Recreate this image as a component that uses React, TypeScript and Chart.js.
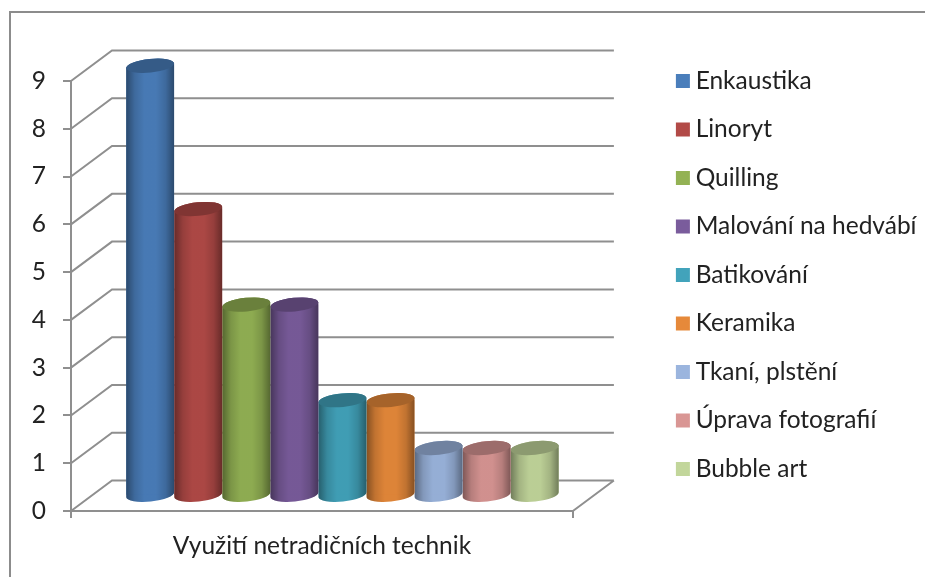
import React, { useEffect, useRef } from "react";
import { Chart, registerables } from "chart.js";

Chart.register(...registerables);

const categories = ["Využití netradičních technik"];
const seriesNames = [
  "Enkaustika",
  "Linoryt",
  "Quilling",
  "Malování na hedvábí",
  "Batikování",
  "Keramika",
  "Tkaní, plstění",
  "Úprava fotografií",
  "Bubble art",
];
const seriesValues = [9, 6, 4, 4, 2, 2, 1, 1, 1];
const seriesColors = [
  "#4a7ebb",
  "#b24a47",
  "#93b254",
  "#7a5c9c",
  "#42a3bb",
  "#e6893a",
  "#9bb5de",
  "#d99694",
  "#c2d69b",
];

const FONT = "Lato";
const FONT_SIZE = 24.5;
const TEXT = "#222222";
const GRID = "#8f8f8f";
const DEPTH_X = 41;
const DEPTH_Y = -30.5;
const RY = 6.8;
const TILT = -0.1;

function darken(hex: string, f: number) {
  const n = parseInt(hex.slice(1), 16);
  return `rgb(${((n >> 16) & 255) * f},${((n >> 8) & 255) * f},${(n & 255) * f})`;
}

function silhouette(ctx: CanvasRenderingContext2D, el: any) {
  const rx = el.width / 2;
  ctx.beginPath();
  ctx.ellipse(el.x, el.base, rx, RY, TILT, 0, Math.PI);
  ctx.ellipse(el.x, el.y, rx, RY, TILT, Math.PI, Math.PI * 2);
  ctx.closePath();
}

const scene = {
  id: "scene",
  beforeDraw(chart: any) {
    const { ctx, height, width } = chart;
    ctx.save();
    ctx.strokeStyle = "#8c8c8c";
    ctx.lineWidth = 2;
    ctx.beginPath();
    ctx.moveTo(10, height);
    ctx.lineTo(10, 12);
    ctx.lineTo(width, 12);
    ctx.stroke();
    ctx.restore();
  },
  beforeDatasetsDraw(chart: any) {
    const { ctx, scales, chartArea } = chart;
    ctx.save();
    ctx.strokeStyle = GRID;
    ctx.lineWidth = 2;
    ctx.beginPath();
    scales.y.ticks.forEach((t: any) => {
      const y = scales.y.getPixelForValue(t.value);
      ctx.moveTo(chartArea.left, y);
      ctx.lineTo(chartArea.left + DEPTH_X, y + DEPTH_Y);
      ctx.lineTo(chartArea.right + DEPTH_X, y + DEPTH_Y);
    });
    ctx.moveTo(chartArea.right, chartArea.bottom);
    ctx.lineTo(chartArea.right + DEPTH_X, chartArea.bottom + DEPTH_Y);
    ctx.stroke();
    ctx.restore();
    ctx.save();
    ctx.translate(DEPTH_X / 2, DEPTH_Y / 2);
  },
  beforeDatasetDraw(chart: any, args: any) {
    const { ctx } = chart;
    const el = args.meta.data[0];
    silhouette(ctx, el);
    ctx.fillStyle = seriesColors[args.index];
    ctx.fill();
    ctx.save();
    silhouette(ctx, el);
    ctx.clip();
  },
  afterDatasetDraw(chart: any, args: any) {
    const { ctx } = chart;
    const el = args.meta.data[0];
    ctx.restore();
    const x0 = el.x - el.width / 2;
    const g = ctx.createLinearGradient(x0, 0, x0 + el.width, 0);
    g.addColorStop(0, "rgba(0,0,0,0.42)");
    g.addColorStop(0.18, "rgba(0,0,0,0.16)");
    g.addColorStop(0.38, "rgba(0,0,0,0.04)");
    g.addColorStop(0.62, "rgba(0,0,0,0.04)");
    g.addColorStop(0.82, "rgba(0,0,0,0.16)");
    g.addColorStop(1, "rgba(0,0,0,0.42)");
    silhouette(ctx, el);
    ctx.fillStyle = g;
    ctx.fill();
    ctx.beginPath();
    ctx.ellipse(el.x, el.y, el.width / 2, RY, TILT, 0, Math.PI * 2);
    ctx.fillStyle = darken(seriesColors[args.index], 0.72);
    ctx.fill();
  },
  afterDatasetsDraw(chart: any) {
    chart.ctx.restore();
  },
};

export default function App() {
  const ref = useRef<HTMLCanvasElement>(null);
  useEffect(() => {
    const chart = new Chart(ref.current!, {
      type: "bar",
      data: {
        labels: categories,
        datasets: seriesNames.map((name, i) => ({
          label: name,
          data: [seriesValues[i]],
          backgroundColor: seriesColors[i],
          borderWidth: 0,
          barPercentage: 1,
          categoryPercentage: 0.862,
          clip: false as any,
        })),
      },
      plugins: [scene],
      options: {
        responsive: false,
        animation: false,
        events: [],
        layout: { padding: { top: -17, left: 0, right: -1.5, bottom: 10 } },
        plugins: {
          tooltip: { enabled: false },
          title: { display: false },
          legend: {
            display: true,
            position: "right",
            align: "center",
            maxWidth: 320,
            labels: {
              font: { family: FONT, size: FONT_SIZE },
              color: TEXT,
              boxWidth: 1,
              boxHeight: 1,
              padding: 24,
              generateLabels: () =>
                seriesNames.map((text, i) => ({
                  text,
                  fillStyle: seriesColors[i],
                  strokeStyle: seriesColors[i],
                  lineWidth: 13,
                  datasetIndex: i,
                  hidden: false,
                  fontColor: TEXT,
                })),
            },
          },
        },
        scales: {
          x: {
            position: "bottom",
            offset: true,
            afterFit: (s: any) => {
              s.height = 56;
            },
            grid: { drawOnChartArea: false, color: GRID, lineWidth: 2, tickLength: 7, offset: true },
            border: { color: GRID, width: 2 },
            ticks: { font: { family: FONT, size: FONT_SIZE }, color: TEXT, padding: 13, maxRotation: 0 },
          },
          xTop: {
            position: "top",
            type: "category",
            afterFit: (s: any) => {
              s.height = 98;
            },
            grid: { display: false },
            border: { display: false },
            ticks: { display: false },
          },
          y: {
            position: "left",
            min: 0,
            max: 9,
            afterFit: (s: any) => {
              s.width = 71;
            },
            grid: { drawOnChartArea: false, color: GRID, lineWidth: 2, tickLength: 8 },
            border: { color: GRID, width: 2 },
            ticks: { stepSize: 1, font: { family: FONT, size: FONT_SIZE }, color: TEXT, padding: 17 },
          },
          yGap: {
            position: "right",
            type: "linear",
            afterFit: (s: any) => {
              s.width = 85.5;
            },
            grid: { display: false },
            border: { display: false },
            ticks: { display: false },
          },
        },
      },
    } as any);
    return () => chart.destroy();
  }, []);
  return (
    <div style={{ position: "absolute", left: 0, top: 0, width: 925, height: 577, background: "#fff", overflow: "hidden" }}>
      <canvas ref={ref} width={925} height={577} style={{ display: "block", filter: "blur(0.4px)" }} />
    </div>
  );
}
